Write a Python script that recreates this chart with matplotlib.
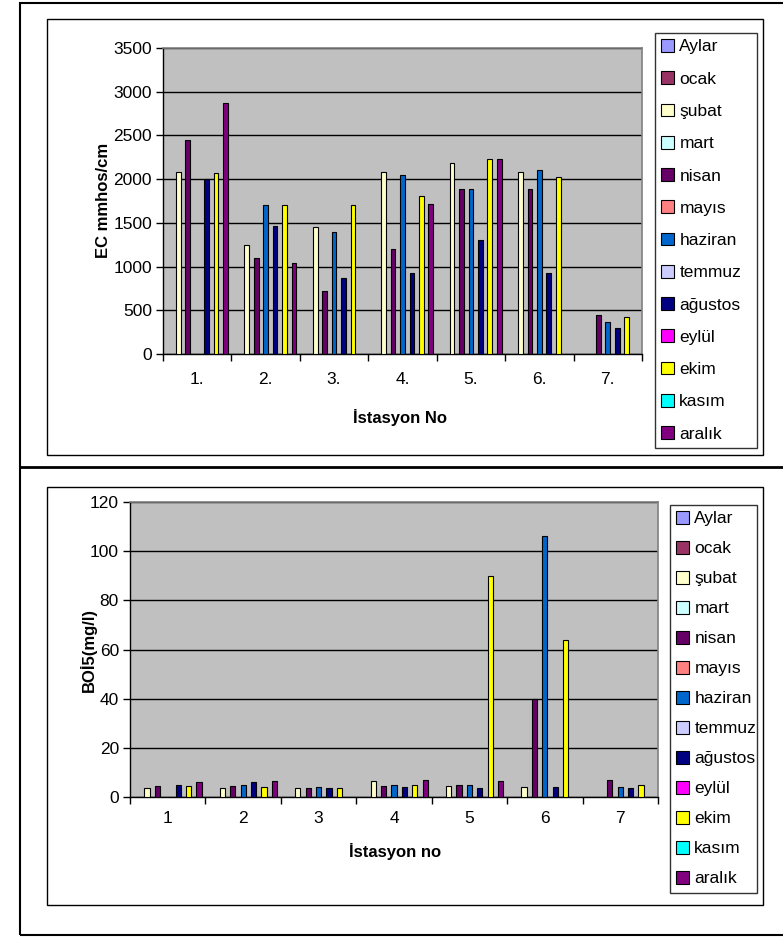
import numpy as np
import matplotlib
matplotlib.use("Agg")
import matplotlib.pyplot as plt
from matplotlib.patches import Rectangle, Patch
from matplotlib.lines import Line2D

plt.rcParams['font.family'] = ['Liberation Sans', 'DejaVu Sans']

series = ["Aylar", "ocak", "şubat", "mart", "nisan", "mayıs", "haziran",
          "temmuz", "ağustos", "eylül", "ekim", "kasım", "aralık"]
colors = ["#9999FF", "#993366", "#FFFFCC", "#CCFFFF", "#660066", "#FF8080",
          "#0066CC", "#CCCCFF", "#000080", "#FF00FF", "#FFFF00", "#00FFFF",
          "#800080"]

ec_labels = ["1.", "2.", "3.", "4.", "5.", "6.", "7."]
bod_labels = ["1", "2", "3", "4", "5", "6", "7"]
N = None

# EC values per month (series) for stations 1..7
ec_subat   = [2080, 1250, 1450, 2080, 2180, 2080, N]
ec_nisan   = [2450, 1100, 720, 1200, 1890, 1890, 450]
ec_haziran = [N, 1700, 1395, 2050, 1890, 2100, 365]
ec_agustos = [2000, 1460, 870, 930, 1300, 930, 300]
ec_ekim    = [2070, 1700, 1700, 1810, 2230, 2025, 420]
ec_aralik  = [2870, 1040, N, 1720, 2230, N, N]

# BOİ5 values per month for stations 1..7
bod_subat   = [3.5, 3.5, 3.5, 6.5, 4.5, 4, N]
bod_nisan   = [4.5, 4.5, 3.8, 4.5, 5, 40, 7]
bod_haziran = [N, 5, 4, 5, 5, 106, 4]
bod_agustos = [5, 6, 3.5, 4, 3.5, 4, 3.5]
bod_ekim    = [4.5, 4, 3.8, 5, 90, 64, 5]
bod_aralik  = [6, 6.5, N, 7, 6.5, N, N]

empty = [N] * 7
ec_data = {"şubat": ec_subat, "nisan": ec_nisan, "haziran": ec_haziran,
           "ağustos": ec_agustos, "ekim": ec_ekim, "aralık": ec_aralik}
bod_data = {"şubat": bod_subat, "nisan": bod_nisan, "haziran": bod_haziran,
            "ağustos": bod_agustos, "ekim": bod_ekim, "aralık": bod_aralik}

W, H = 783, 939
fig = plt.figure(figsize=(W / 100, H / 100), dpi=100)


def fx(px):
    return px / W


def fy(py):
    return 1 - py / H


def draw_chart(rect, data, labels, ymax, ystep, ylabel, xlabel, ylab_pos,
               xlab_pos, legend_box, leg_spacing, xpad):
    x0, y0, x1, y1 = rect
    ax = fig.add_axes([fx(x0), fy(y1), fx(x1 - x0), (y1 - y0) / H])
    ax.set_facecolor("#C0C0C0")
    n = len(series)
    gap = 1.5
    bw = 1.0 / (n + gap)
    xs = np.arange(len(labels))
    for i, s in enumerate(series):
        vals = np.array([np.nan if v is None else v
                         for v in data.get(s, empty)], dtype=float)
        pos = xs - 0.5 + bw * (gap / 2 + i + 0.5)
        ax.bar(pos, vals, width=bw, color=colors[i], edgecolor="black",
               linewidth=0.8, zorder=3)
    ax.set_xlim(-0.5, len(labels) - 0.5)
    ax.set_ylim(0, ymax)
    ax.set_yticks(np.arange(0, ymax + 1, ystep))
    ax.yaxis.grid(True, color="black", linewidth=1.0, zorder=0)
    ax.set_axisbelow(True)
    ax.set_xticks(xs)
    ax.set_xticklabels(labels, fontsize=12.5)
    ax.set_xticks(np.arange(-0.5, len(labels)), minor=True)
    ax.tick_params(axis="x", which="major", length=0, pad=xpad)
    ax.tick_params(axis="x", which="minor", length=5, width=1, color="black")
    ax.tick_params(axis="y", length=5, width=1, labelsize=12.5, pad=3)
    for sp in ["top", "right"]:
        ax.spines[sp].set_color("#808080")
        ax.spines[sp].set_linewidth(1.2)
    for sp in ["left", "bottom"]:
        ax.spines[sp].set_color("black")
        ax.spines[sp].set_linewidth(1.0)
    fig.text(fx(ylab_pos[0]), fy(ylab_pos[1]), ylabel, rotation=90,
             ha="center", va="center", fontsize=12, fontweight="bold")
    fig.text(fx(xlab_pos[0]), fy(xlab_pos[1]), xlabel, ha="center",
             va="center", fontsize=12, fontweight="bold")
    handles = [Patch(facecolor=c, edgecolor="black", linewidth=0.8)
               for c in colors]
    lx0, ly0, lx1, ly1 = legend_box
    leg = fig.legend(handles, series, loc="upper left",
                     bbox_to_anchor=(fx(lx0), fy(ly1), fx(lx1 - lx0),
                                     (ly1 - ly0) / H),
                     mode="expand", fontsize=12.5, frameon=True,
                     fancybox=False, edgecolor="black", borderaxespad=0,
                     handlelength=0.75, handleheight=0.75, handletextpad=0.3,
                     labelspacing=leg_spacing, borderpad=0.35)
    leg.get_frame().set_linewidth(1.0)
    return ax


# outer frame and separators
fig.add_artist(Rectangle((fx(20), fy(935)), fx(783 - 20) + 0.01,
                         (935 - 3) / H, transform=fig.transFigure,
                         fill=False, edgecolor="black", linewidth=1.5))
fig.add_artist(Line2D([fx(20), 1], [fy(467), fy(467)],
                      transform=fig.transFigure, color="black", linewidth=2))
fig.add_artist(Rectangle((fx(47), fy(455)), fx(763 - 47), (455 - 19) / H,
                         transform=fig.transFigure, fill=False,
                         edgecolor="black", linewidth=1.0))
fig.add_artist(Rectangle((fx(47), fy(905)), fx(763 - 47), (905 - 487) / H,
                         transform=fig.transFigure, fill=False,
                         edgecolor="black", linewidth=1.0))

draw_chart((163, 48, 642, 354), ec_data, ec_labels, 3500, 500,
           "EC mmhos/cm", "İstasyon No", (103, 200), (400, 418),
           (655, 33, 757, 445), 0.97, 13)
draw_chart((130, 502, 658, 797), bod_data, bod_labels, 120, 20,
           "BOİ5(mg/l)", "İstasyon no", (88, 650), (395, 852),
           (670, 505, 757, 893), 0.84, 10)

fig.savefig("out.png", dpi=100)
